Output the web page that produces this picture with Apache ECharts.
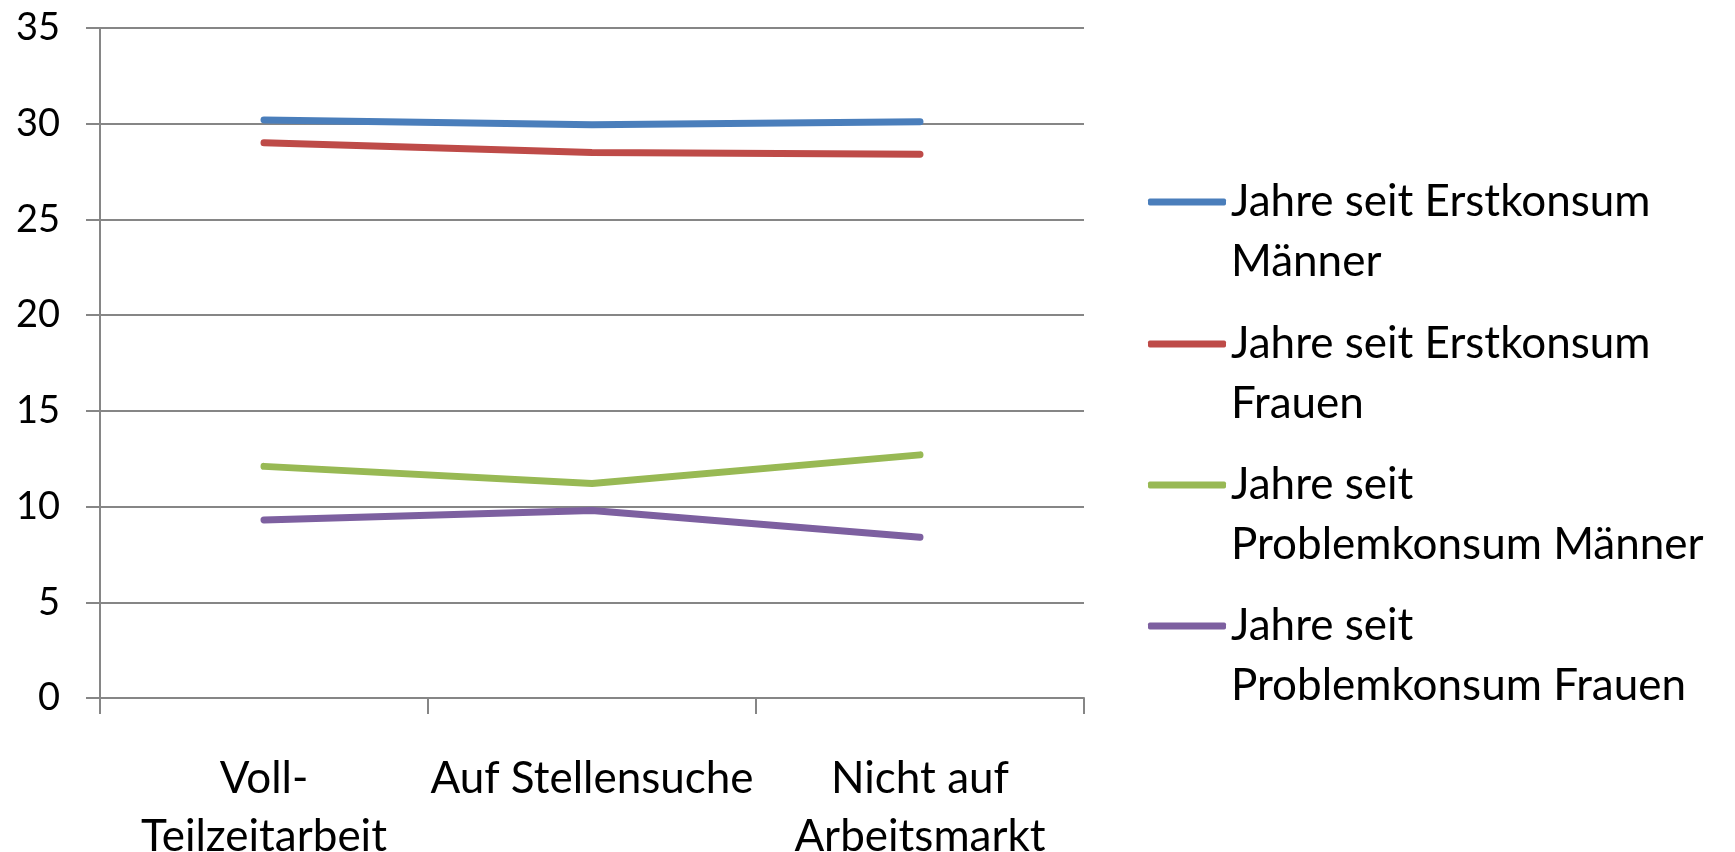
<!DOCTYPE html>
<html>
<head>
<meta charset="utf-8">
<script src="https://cdn.jsdelivr.net/npm/echarts@6/dist/echarts.min.js"></script>
<style>html,body{margin:0;padding:0;background:#fff;}#c{width:1735px;height:852px;}</style>
</head>
<body>
<div id="c"></div>
<script>
var categories = ['Voll-\nTeilzeitarbeit', 'Auf Stellensuche', 'Nicht auf\nArbeitsmarkt'];
var seriesNames = ['Jahre seit Erstkonsum\nMänner', 'Jahre seit Erstkonsum\nFrauen', 'Jahre seit\nProblemkonsum Männer', 'Jahre seit\nProblemkonsum Frauen'];
var erstMaenner = [30.2, 29.95, 30.1];
var erstFrauen = [29.0, 28.5, 28.4];
var problemMaenner = [12.1, 11.2, 12.7];
var problemFrauen = [9.3, 9.8, 8.4];
var yTicks = [0, 5, 10, 15, 20, 25, 30, 35];
var colors = ['#4A7EBB', '#BE4B48', '#98B954', '#7D60A0'];

var FONT = 'Lato';
var values = [erstMaenner, erstFrauen, problemMaenner, problemFrauen];
var legendIconY = [202, 344, 485, 626];

var chart = echarts.init(document.getElementById('c'));
var legends = seriesNames.map(function (n, i) {
  return {
    data: [n],
    left: 1148,
    top: legendIconY[i] - 90,
    padding: 0,
    icon: 'roundRect',
    itemWidth: 78,
    itemHeight: 7,
    itemGap: 0,
    itemTextGap: 18,
    selectedMode: false,
    formatter: function (name) { return '\n' + name; },
    textStyle: {
      fontFamily: FONT,
      fontSize: 44,
      color: '#000',
      lineHeight: 60
    }
  };
});

chart.setOption({
  animation: false,
  color: colors,
  legend: legends,
  grid: { left: 100, right: 651, top: 28, bottom: 154, containLabel: false, outerBoundsMode: 'none' },
  xAxis: {
    type: 'category',
    data: categories,
    boundaryGap: true,
    axisLine: { show: true, lineStyle: { color: '#868686', width: 2 } },
    axisTick: { show: true, length: 16, alignWithLabel: false, lineStyle: { color: '#868686', width: 2 } },
    axisLabel: { fontFamily: FONT, fontSize: 44, color: '#000', margin: 52, lineHeight: 58, interval: 0 },
    splitLine: { show: false }
  },
  yAxis: {
    type: 'value',
    min: 0,
    max: 35,
    interval: 5,
    axisLine: { show: true, lineStyle: { color: '#868686', width: 2 } },
    axisTick: { show: true, length: 14, lineStyle: { color: '#868686', width: 2 } },
    axisLabel: {
      fontFamily: FONT, fontSize: 38, color: '#000', margin: 40,
      formatter: function (v) { return yTicks.indexOf(v) >= 0 ? String(v) : ''; }
    },
    splitLine: { show: true, lineStyle: { color: '#868686', width: 2 } }
  },
  series: seriesNames.map(function (n, i) {
    return {
      name: n,
      type: 'line',
      data: values[i],
      symbol: 'none',
      smooth: false,
      lineStyle: { width: 7, color: colors[i], cap: 'round', join: 'round' }
    };
  })
});
</script>
</body>
</html>
